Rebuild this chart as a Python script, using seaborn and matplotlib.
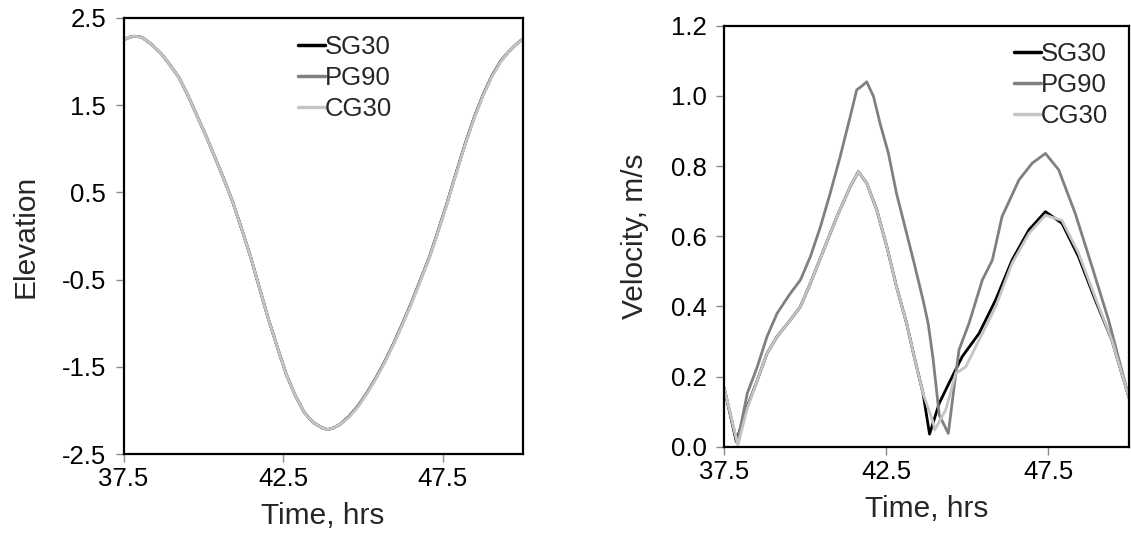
import matplotlib
matplotlib.use("Agg")
import matplotlib.pyplot as plt
import seaborn as sns
import pandas as pd

# ---------------- data ----------------
series_names = ["SG30", "PG90", "CG30"]
series_colors = ["#000000", "#808080", "#c4c4c4"]

# Elevation (all three runs practically coincide)
elev_time = [37.5, 37.7, 37.84, 38.0, 38.11, 38.4, 38.68, 38.96, 39.24, 39.52, 39.80, 40.08,
             40.36, 40.64, 40.92, 41.2, 41.48, 41.76, 42.04, 42.32, 42.6, 42.88, 43.16,
             43.44, 43.72, 43.89, 44.08, 44.28, 44.56, 44.84, 45.12, 45.4, 45.68, 45.96,
             46.24, 46.52, 46.8, 47.08, 47.36, 47.64, 47.92, 48.2, 48.48, 48.76, 49.04,
             49.32, 49.55, 49.77, 50.0]
elev_sg30 = [2.25, 2.28, 2.29, 2.285, 2.27, 2.19, 2.09, 1.96, 1.815, 1.61, 1.38, 1.15,
             0.905, 0.655, 0.39, 0.08, -0.24, -0.60, -0.956, -1.28, -1.59, -1.83, -2.025,
             -2.14, -2.20, -2.22, -2.20, -2.16, -2.07, -1.95, -1.80, -1.63, -1.44, -1.23,
             -1.00, -0.76, -0.50, -0.24, 0.07, 0.39, 0.73, 1.06, 1.36, 1.62, 1.84,
             2.01, 2.11, 2.19, 2.26]
elev_pg90 = list(elev_sg30)
elev_cg30 = [2.25, 2.28, 2.29, 2.285, 2.27, 2.19, 2.09, 1.96, 1.815, 1.61, 1.38, 1.15,
             0.905, 0.655, 0.39, 0.08, -0.24, -0.60, -0.956, -1.28, -1.59, -1.83, -2.025,
             -2.14, -2.20, -2.22, -2.20, -2.16, -2.08, -1.96, -1.81, -1.64, -1.45, -1.24,
             -1.01, -0.77, -0.51, -0.25, 0.06, 0.38, 0.72, 1.05, 1.35, 1.61, 1.83,
             2.00, 2.11, 2.19, 2.26]

# Velocity
vel_time_sg30 = [37.5, 37.87, 38.21, 38.52, 38.82, 39.13, 39.54, 39.85, 40.16, 40.57,
                 40.98, 41.39, 41.64, 41.9, 42.21, 42.52, 42.82, 43.13, 43.39, 43.64,
                 43.84, 44.14, 44.44, 44.85, 45.37, 45.88, 46.39, 46.91, 47.42, 47.93,
                 48.44, 48.96, 49.47, 50.0]
vel_sg30 = [0.166, 0.015, 0.114, 0.19, 0.266, 0.314, 0.361, 0.399, 0.466, 0.561,
            0.656, 0.741, 0.784, 0.751, 0.675, 0.570, 0.456, 0.352, 0.247, 0.152,
            0.036, 0.124, 0.181, 0.257, 0.323, 0.418, 0.532, 0.618, 0.670, 0.637,
            0.542, 0.418, 0.304, 0.14]

vel_time_pg90 = [37.5, 37.9, 38.21, 38.52, 38.82, 39.13, 39.54, 39.85, 40.16, 40.47,
                 40.77, 41.08, 41.39, 41.59, 41.75, 41.9, 42.11, 42.31, 42.57, 42.82,
                 43.08, 43.34, 43.64, 43.8, 43.95, 44.14, 44.42, 44.6, 44.75, 45.06,
                 45.47, 45.78, 46.08, 46.6, 47.01, 47.42, 47.83, 48.34, 48.86, 49.37,
                 50.0]
vel_pg90 = [0.166, 0.01, 0.152, 0.228, 0.314, 0.38, 0.437, 0.475, 0.542, 0.627,
            0.722, 0.827, 0.941, 1.017, 1.028, 1.040, 0.998, 0.922, 0.836, 0.722,
            0.627, 0.532, 0.418, 0.35, 0.25, 0.09, 0.038, 0.171, 0.276, 0.352,
            0.475, 0.532, 0.656, 0.76, 0.808, 0.836, 0.789, 0.665, 0.513, 0.361,
            0.14]

vel_time_cg30 = [37.5, 37.92, 38.21, 38.52, 38.82, 39.13, 39.54, 39.85, 40.16, 40.57,
                 40.98, 41.39, 41.64, 41.9, 42.21, 42.52, 42.82, 43.13, 43.39, 43.64,
                 43.95, 44.0, 44.34, 44.65, 44.96, 45.37, 45.88, 46.39, 46.91, 47.42,
                 47.93, 48.44, 48.96, 49.47, 50.0]
vel_cg30 = [0.166, 0.005, 0.11, 0.19, 0.266, 0.314, 0.361, 0.399, 0.466, 0.561,
            0.656, 0.741, 0.784, 0.751, 0.675, 0.570, 0.456, 0.352, 0.247, 0.152,
            0.07, 0.048, 0.105, 0.209, 0.228, 0.304, 0.399, 0.523, 0.608, 0.660,
            0.645, 0.552, 0.425, 0.304, 0.14]

x_ticks = [37.5, 42.5, 47.5]
elev_ticks = [-2.5, -1.5, -0.5, 0.5, 1.5, 2.5]
vel_ticks = [0.0, 0.2, 0.4, 0.6, 0.8, 1.0, 1.2]

# ---------------- frames ----------------
def long_frame(times, values):
    parts = []
    for name, t, v in zip(series_names, times, values):
        parts.append(pd.DataFrame({"Time": t, "Value": v, "Run": name}))
    return pd.concat(parts, ignore_index=True)

df_elev = long_frame([elev_time] * 3, [elev_sg30, elev_pg90, elev_cg30])
df_vel = long_frame([vel_time_sg30, vel_time_pg90, vel_time_cg30],
                    [vel_sg30, vel_pg90, vel_cg30])

# ---------------- style ----------------
sns.set_style("white")
plt.rcParams["font.family"] = ["Liberation Sans", "DejaVu Sans"]

fig = plt.figure(figsize=(11.31, 5.43), dpi=100)
ax1 = fig.add_axes([0.1092, 0.1639, 0.4622 - 0.1092, 0.9669 - 0.1639])
ax2 = fig.add_axes([0.6404, 0.1773, 0.9982 - 0.6404, 0.9527 - 0.1773])

palette = dict(zip(series_names, series_colors))

for ax, df, yt, ylab, lx in [
    (ax1, df_elev, elev_ticks, "Elevation", 0.436),
    (ax2, df_vel, vel_ticks, "Velocity, m/s", 0.715),
]:
    sns.lineplot(data=df, x="Time", y="Value", hue="Run", hue_order=series_names,
                 palette=palette, linewidth=2.0, sort=True, estimator=None, ax=ax)
    ax.set_xlim(37.5, 50.0)
    ax.set_ylim(yt[0], yt[-1])
    ax.set_xticks(x_ticks)
    ax.set_xticklabels([f"{v:.1f}" for v in x_ticks])
    ax.set_yticks(yt)
    ax.set_yticklabels([f"{v:.1f}" for v in yt])
    ax.tick_params(axis="both", which="major", direction="out", length=5.5, width=1,
                   color="#8a8a8a", labelsize=18.5, labelcolor="black", left=True, bottom=True)
    ax.tick_params(axis="y", pad=7)
    ax.tick_params(axis="x", pad=4)
    for s in ax.spines.values():
        s.set_visible(True)
        s.set_color("black")
        s.set_linewidth(1.6)
    ax.set_xlabel("Time, hrs", fontsize=21.5, labelpad=8)
    ax.set_ylabel(ylab, fontsize=21.5, labelpad=16)
    leg = ax.legend(loc="upper left", bbox_to_anchor=(lx, 0.962),
                    frameon=False, fontsize=18.5, handlelength=1.05, handletextpad=0.0,
                    borderaxespad=0, borderpad=0, labelspacing=0.28)
    for h in leg.get_lines():
        h.set_linewidth(2.5)

fig.savefig("out.png", dpi=100)
